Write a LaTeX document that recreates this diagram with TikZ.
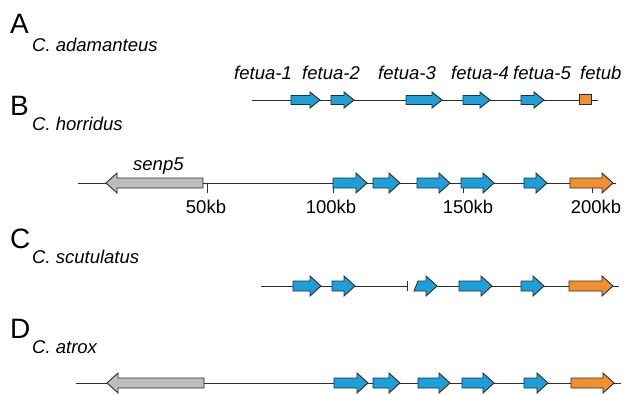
\documentclass[tikz,border=0pt]{standalone}
\usepackage{fontspec}
\setmainfont{Liberation Sans}

\definecolor{geneblue}{RGB}{27,160,219}
\definecolor{geneorange}{RGB}{242,144,48}
\definecolor{genegrey}{RGB}{186,188,190}
\definecolor{outline}{RGB}{45,45,45}

\tikzset{
  backbone/.style={draw=outline, line width=1pt},
  genebody/.style={draw=outline, line width=0.9pt, line join=miter},
  scaletick/.style={draw=outline, line width=1pt},
  panel/.style={inner sep=0pt, anchor=base west, font=\fontsize{28}{30}\selectfont},
  species/.style={inner sep=0pt, anchor=base west, font=\fontsize{18.5}{20}\selectfont\itshape},
  genename/.style={inner sep=0pt, anchor=base west, font=\fontsize{18.5}{20}\selectfont\itshape},
  scalelabel/.style={inner sep=0pt, anchor=base, font=\fontsize{18.5}{20}\selectfont},
}

% arrow geometry: half body height, half head height, head length
\newcommand*\gbody{5}
\newcommand*\ghead{10}
\newcommand*\glen{11}

% forward gene: start x, tip x, y, fill colour
\newcommand*\fwdgene[4]{%
  \path[genebody,fill=#4] (#1,#3-\gbody) -- (#2-\glen,#3-\gbody) -- (#2-\glen,#3-\ghead)
    -- (#2,#3) -- (#2-\glen,#3+\ghead) -- (#2-\glen,#3+\gbody) -- (#1,#3+\gbody) -- cycle;}
% reverse gene: tip x, end x, y, fill colour
\newcommand*\revgene[4]{%
  \path[genebody,fill=#4] (#2,#3-\gbody) -- (#1+\glen,#3-\gbody) -- (#1+\glen,#3-\ghead)
    -- (#1,#3) -- (#1+\glen,#3+\ghead) -- (#1+\glen,#3+\gbody) -- (#2,#3+\gbody) -- cycle;}

\begin{document}
\begin{tikzpicture}[x=1pt,y=-1pt]
\useasboundingbox (0,0) rectangle (624,394);

% ---------- panel letters and species ----------
\node[panel] (pA) at (10,33) {A};
\node[species] (sA) at (32,51) {C. adamanteus};
\node[panel] (pB) at (10,115) {B};
\node[species] (sB) at (32,130) {C. horridus};
\node[panel] (pC) at (10,248) {C};
\node[species] (sC) at (32,263) {C. scutulatus};
\node[panel] (pD) at (10,338) {D};
\node[species] (sD) at (32,353) {C. atrox};

% ---------- A: C. adamanteus ----------
\node[genename] (n1) at (234,79) {fetua-1};
\node[genename] (n2) at (302,79) {fetua-2};
\node[genename] (n3) at (378,79) {fetua-3};
\node[genename] (n4) at (451,79) {fetua-4};
\node[genename] (n5) at (513,79) {fetua-5};
\node[genename] (n6) at (580,79) {fetub};
\begin{scope}
  \renewcommand*\gbody{4.5}\renewcommand*\ghead{8}\renewcommand*\glen{10}
  \path[backbone] (252,100) -- (598,100);
  \fwdgene{291}{320}{100}{geneblue}
  \fwdgene{331}{354}{100}{geneblue}
  \fwdgene{406}{442}{100}{geneblue}
  \fwdgene{463}{490}{100}{geneblue}
  \fwdgene{521}{544}{100}{geneblue}
  \path[genebody,fill=geneorange] (579,94.5) rectangle (591,104.5);
\end{scope}

% ---------- B: C. horridus ----------
\path[backbone] (78,183) -- (616,183);
\foreach \t in {207,333,463,592} \path[scaletick] (\t,183) -- (\t,193);
\node[genename] (sp) at (133,170) {senp5};
\revgene{106}{203}{183}{genegrey}
\fwdgene{333}{367}{183}{geneblue}
\fwdgene{373}{400}{183}{geneblue}
\fwdgene{417}{450}{183}{geneblue}
\fwdgene{461}{494}{183}{geneblue}
\fwdgene{524}{547}{183}{geneblue}
\fwdgene{570}{613}{183}{geneorange}
\node[scalelabel] (k50) at (206,213) {50kb};
\node[scalelabel] (k100) at (331,213) {100kb};
\node[scalelabel] (k150) at (468,213) {150kb};
\node[scalelabel] (k200) at (596,213) {200kb};

% ---------- C: C. scutulatus ----------
\path[backbone] (261,286) -- (407,286);
\path[backbone] (407,281) -- (407,291);
\path[backbone] (437,286) -- (619,286);
\fwdgene{293}{321}{286}{geneblue}
\fwdgene{332}{355}{286}{geneblue}
% truncated copy with a slanted 5' end
\path[genebody,fill=geneblue] (418,281) -- (426,281) -- (426,276) -- (437,286)
  -- (426,296) -- (426,291) -- (414,291) -- cycle;
\fwdgene{459}{492}{286}{geneblue}
\fwdgene{521}{544}{286}{geneblue}
\fwdgene{569}{613}{286}{geneorange}

% ---------- D: C. atrox ----------
\path[backbone] (76,383) -- (621,383);
\revgene{107}{204}{383}{genegrey}
\fwdgene{334}{368}{383}{geneblue}
\fwdgene{373}{400}{383}{geneblue}
\fwdgene{418}{450}{383}{geneblue}
\fwdgene{462}{494}{383}{geneblue}
\fwdgene{524}{548}{383}{geneblue}
\fwdgene{571}{614}{383}{geneorange}
\end{tikzpicture}
\end{document}
